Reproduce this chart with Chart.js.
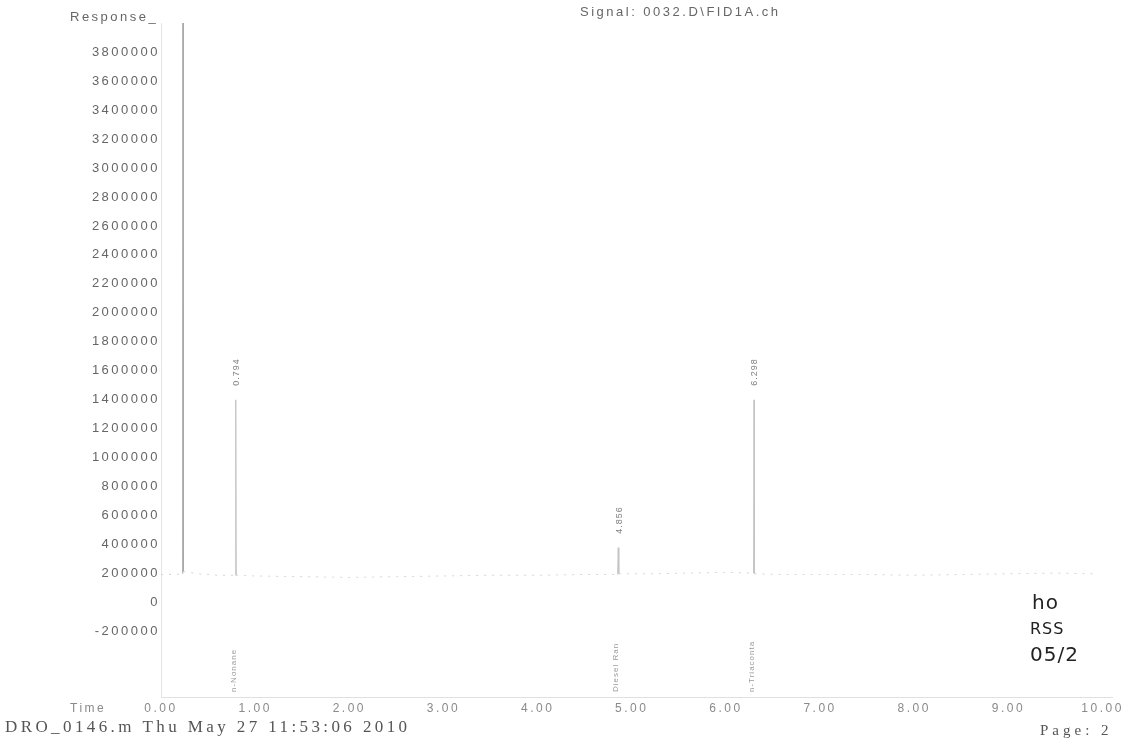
<!DOCTYPE html>
<html>
<head>
<meta charset="utf-8">
<title>Signal: 0032.D\FID1A.ch</title>
<script src="https://cdn.jsdelivr.net/npm/chart.js@4.4.1/dist/chart.umd.min.js"></script>
<style>
  html, body { margin: 0; padding: 0; background: #fff; }
  #wrap { position: relative; width: 1124px; height: 740px; }
</style>
</head>
<body>
<div id="wrap"><canvas id="chrom" width="1124" height="740"></canvas></div>
<script>
// ── Data ─────────────────────────────────
const times    = [0.00, 0.15, 0.231, 0.234, 0.237, 0.40, 0.60, 0.789, 0.794, 0.799,
                  1.00, 1.50, 2.00, 2.50, 3.00, 3.50, 4.00, 4.50, 4.850, 4.856,
                  4.862, 5.20, 5.60, 6.00, 6.293, 6.298, 6.303, 6.60, 7.00, 7.50,
                  8.00, 8.50, 9.00, 9.50, 9.90];
const response = [195000, 195000, 200000, 4200000, 215000, 200000, 190000, 190000, 1400000, 190000,
                  185000, 180000, 175000, 180000, 185000, 190000, 190000, 195000, 195000, 380000,
                  200000, 200000, 205000, 210000, 205000, 1400000, 200000, 195000, 195000, 195000,
                  190000, 195000, 200000, 205000, 200000];

const peakTimes  = [0.794, 4.856, 6.298];
const peakHeight = [1400000, 380000, 1400000];
const peakNames  = ["n-Nonane", "Diesel Ran", "n-Triaconta"];

const xTicks = [0, 1, 2, 3, 4, 5, 6, 7, 8, 9, 10];
const yTicks = [-200000, 0, 200000, 400000, 600000, 800000, 1000000, 1200000, 1400000,
                1600000, 1800000, 2000000, 2200000, 2400000, 2600000, 2800000, 3000000,
                3200000, 3400000, 3600000, 3800000];

const SANS  = "'Liberation Sans', Arial, sans-serif";
const SERIF = "'Liberation Serif', 'Times New Roman', serif";

// ── Page text (header, footer, annotations) ──
const pageText = {
  id: "pageText",
  beforeDraw(chart) {
    chart.ctx.letterSpacing = "2.5px";
  },
  afterDraw(chart) {
    const ctx = chart.ctx;
    const xs = chart.scales.x, ys = chart.scales.y;

    ctx.save();
    ctx.textBaseline = "middle";
    ctx.textAlign = "left";

    ctx.letterSpacing = "2.5px";
    ctx.fillStyle = "#666";
    ctx.font = "13px " + SANS;
    ctx.fillText("Response_", 70, 17);
    ctx.fillText("Signal: 0032.D\\FID1A.ch", 580, 12);

    ctx.fillStyle = "#8a8a8a";
    ctx.font = "12px " + SANS;
    ctx.fillText("Time", 70, 709);

    // footer
    ctx.fillStyle = "#555";
    ctx.letterSpacing = "3.4px";
    ctx.font = "17px " + SERIF;
    ctx.fillText("DRO_0146.m Thu May 27 11:53:06 2010", 5, 728);
    ctx.letterSpacing = "4px";
    ctx.font = "15px " + SERIF;
    ctx.fillText("Page: 2", 1040, 731);

    // handwritten note
    ctx.letterSpacing = "1px";
    ctx.fillStyle = "#222";
    ctx.font = "20px 'DejaVu Sans', sans-serif";
    ctx.fillText("ho", 1032, 604);
    ctx.font = "16px 'DejaVu Sans', sans-serif";
    ctx.fillText("RSS", 1030, 630);
    ctx.font = "20px 'DejaVu Sans', sans-serif";
    ctx.fillText("05/2", 1030, 656);

    // retention times above apex and compound names at the foot
    ctx.letterSpacing = "1px";
    peakTimes.forEach((t, i) => {
      const px = xs.getPixelForValue(t);
      const py = ys.getPixelForValue(peakHeight[i]);

      ctx.save();
      ctx.translate(px + 1, py - 14);
      ctx.rotate(-Math.PI / 2);
      ctx.font = "9px " + SANS;
      ctx.fillStyle = "#808080";
      ctx.fillText(t.toFixed(3), 0, 0);
      ctx.restore();

      ctx.save();
      ctx.translate(px - 2, 692);
      ctx.rotate(-Math.PI / 2);
      ctx.font = "8px " + SANS;
      ctx.fillStyle = "#999";
      ctx.fillText(peakNames[i], 0, 0);
      ctx.restore();
    });

    ctx.restore();
  }
};

// ── Chart ─────────────────────────────────
const ctx = document.getElementById("chrom");

new Chart(ctx, {
  type: "line",
  data: {
    datasets: [{
      label: "FID1A",
      data: times.map((t, i) => ({ x: t, y: response[i] })),
      borderWidth: 1,
      pointRadius: 0,
      tension: 0,
      borderColor: "#d2d2d2",
      segment: {
        borderColor: c => {
          const top = Math.max(c.p0.parsed.y, c.p1.parsed.y);
          if (top > 3000000) return "#a8a8a8";
          if (top > 300000)  return "#c4c4c4";
          return "#d4d4d4";
        },
        borderDash: c => Math.max(c.p0.parsed.y, c.p1.parsed.y) > 300000 ? [] : [2, 6],
      },
    }]
  },
  options: {
    responsive: false,
    animation: false,
    devicePixelRatio: 1,
    layout: { padding: { left: 0, right: 12, top: 23, bottom: 13 } },
    plugins: {
      legend: { display: false },
      tooltip: { enabled: false },
    },
    scales: {
      x: {
        type: "linear",
        min: 0,
        max: 10.1,
        afterBuildTicks: s => { s.ticks = xTicks.map(v => ({ value: v })); },
        afterFit: s => { s.height = 30; },
        grid: { display: false, drawTicks: false },
        border: { display: true, color: "#e0e0e0", dash: [2, 4] },
        ticks: {
          autoSkip: false,
          maxRotation: 0,
          padding: 4,
          color: "#8a8a8a",
          font: { family: SANS, size: 12 },
          callback: v => v.toFixed(2),
        },
      },
      y: {
        min: -650000,
        max: 4000000,
        afterBuildTicks: s => { s.ticks = yTicks.map(v => ({ value: v })); },
        afterFit: s => { s.width = 161; },
        grid: { display: false, drawTicks: false },
        border: { display: true, color: "#e4e4e4", dash: [2, 3] },
        ticks: {
          padding: 1,
          color: "#666",
          font: { family: SANS, size: 13 },
          callback: v => String(v),
        },
      },
    },
  },
  plugins: [pageText],
});
</script>
</body>
</html>
